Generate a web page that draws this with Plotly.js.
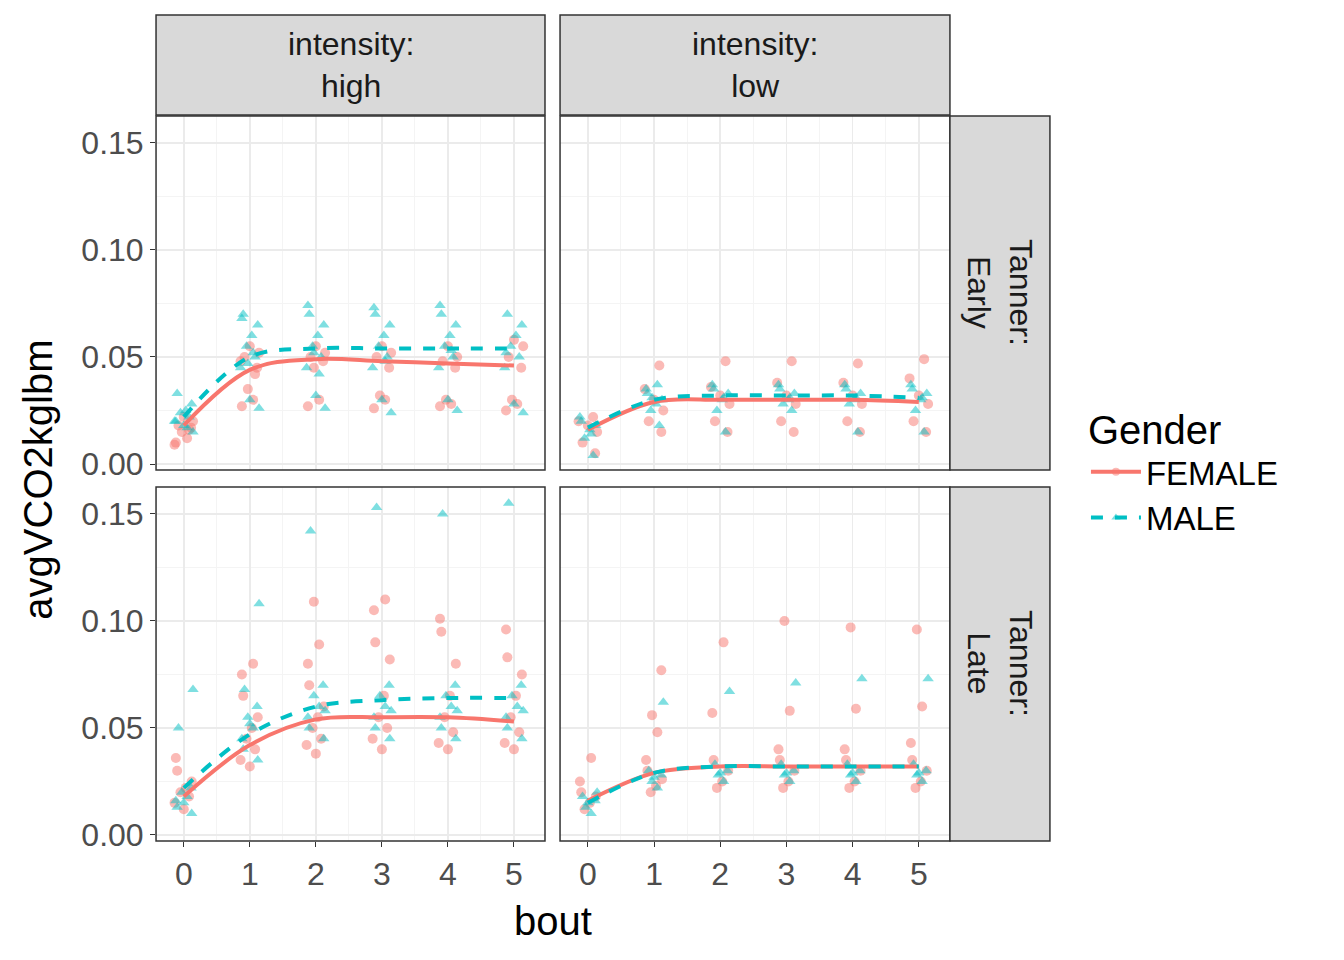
<!DOCTYPE html>
<html>
<head>
<meta charset="utf-8">
<script src="https://cdn.plot.ly/plotly-3.0.1.min.js"></script>
<style>body{margin:0;background:#fff}</style>
</head>
<body>
<div id="chart" style="width:1344px;height:960px"></div>
<script>
// panels: high/Early, low/Early, high/Late, low/Late
const bouts = [0, 1, 2, 3, 4, 5];
const jitter = [-0.12, 0.05, -0.03, 0.11, -0.08, 0.14, 0.0, -0.14, 0.08, -0.05, 0.03, 0.12, -0.1];

const femalePts = [
  [[0.010,0.012,0.015,0.017,0.018,0.020,0.022,0.009,0.016],
   [0.027,0.030,0.035,0.045,0.050,0.052,0.055,0.048,0.042],
   [0.027,0.030,0.045,0.048,0.050,0.052,0.055],
   [0.026,0.030,0.032,0.045,0.050,0.052,0.055],
   [0.027,0.028,0.030,0.045,0.048,0.050,0.055],
   [0.025,0.028,0.030,0.045,0.050,0.055,0.058]],
  [[0.005,0.010,0.015,0.018,0.020,0.022],
   [0.015,0.020,0.025,0.030,0.035,0.046],
   [0.015,0.020,0.028,0.032,0.036,0.048],
   [0.015,0.020,0.028,0.032,0.038,0.048],
   [0.015,0.020,0.028,0.032,0.038,0.047],
   [0.015,0.020,0.028,0.032,0.040,0.049]],
  [[0.012,0.015,0.018,0.020,0.022,0.025,0.030,0.036],
   [0.032,0.035,0.040,0.045,0.050,0.055,0.065,0.075,0.080],
   [0.038,0.042,0.045,0.050,0.055,0.060,0.070,0.080,0.089,0.109],
   [0.040,0.045,0.050,0.055,0.065,0.082,0.090,0.105,0.110],
   [0.040,0.043,0.048,0.055,0.065,0.080,0.095,0.101],
   [0.040,0.043,0.048,0.055,0.065,0.075,0.083,0.096]],
  [[0.012,0.015,0.018,0.020,0.025,0.036],
   [0.020,0.023,0.026,0.030,0.035,0.048,0.056,0.077],
   [0.022,0.025,0.030,0.035,0.057,0.090],
   [0.022,0.025,0.030,0.035,0.040,0.058,0.100],
   [0.022,0.025,0.030,0.035,0.040,0.059,0.097],
   [0.022,0.025,0.030,0.035,0.043,0.060,0.096]]
];
const malePts = [
  [[0.015,0.018,0.020,0.022,0.024,0.025,0.028,0.033,0.020,0.017],
   [0.026,0.030,0.045,0.050,0.055,0.060,0.065,0.070,0.068,0.052,0.047],
   [0.026,0.032,0.045,0.050,0.055,0.060,0.065,0.070,0.074,0.042,0.052],
   [0.024,0.030,0.045,0.050,0.055,0.060,0.065,0.070,0.073,0.048],
   [0.025,0.030,0.045,0.050,0.055,0.060,0.065,0.070,0.074,0.053],
   [0.024,0.028,0.045,0.050,0.055,0.060,0.065,0.070,0.052]],
  [[0.004,0.012,0.016,0.018,0.020,0.022,0.014],
   [0.018,0.025,0.028,0.030,0.033,0.035,0.037,0.031],
   [0.015,0.025,0.030,0.033,0.035,0.037,0.031],
   [0.025,0.028,0.030,0.033,0.035,0.037,0.031],
   [0.015,0.028,0.030,0.033,0.035,0.037,0.031],
   [0.015,0.025,0.030,0.033,0.035,0.037,0.031]],
  [[0.010,0.013,0.016,0.018,0.020,0.022,0.050,0.068,0.015],
   [0.035,0.040,0.045,0.050,0.055,0.060,0.068,0.108,0.052],
   [0.045,0.050,0.055,0.060,0.065,0.070,0.142,0.058],
   [0.045,0.050,0.055,0.060,0.065,0.070,0.153,0.058],
   [0.045,0.050,0.055,0.060,0.065,0.070,0.150,0.058],
   [0.045,0.050,0.055,0.060,0.065,0.070,0.155,0.058]],
  [[0.010,0.013,0.016,0.018,0.020,0.015],
   [0.022,0.025,0.028,0.030,0.062,0.027],
   [0.025,0.028,0.030,0.033,0.067,0.029],
   [0.025,0.028,0.030,0.033,0.071,0.029],
   [0.025,0.028,0.030,0.033,0.073,0.029],
   [0.025,0.028,0.030,0.033,0.073,0.029]]
];
const femaleSmooth = [
  [0.018,0.044,0.049,0.048,0.047,0.046],
  [0.016,0.029,0.030,0.030,0.030,0.029],
  [0.018,0.042,0.054,0.055,0.055,0.053],
  [0.016,0.029,0.032,0.032,0.032,0.032]
];
const maleSmooth = [
  [0.022,0.050,0.054,0.054,0.054,0.054],
  [0.017,0.030,0.032,0.032,0.032,0.031],
  [0.022,0.047,0.060,0.063,0.064,0.064],
  [0.015,0.029,0.032,0.032,0.032,0.032]
];
const colTitles = ['intensity:<br>high', 'intensity:<br>low'];
const rowTitles = ['Tanner:<br>Early', 'Tanner:<br>Late'];

const FEM = '#F8766D', MAL = '#00BFC4';
const xDom = [[0.1161, 0.4055], [0.4167, 0.7068]];
const yDom = [[0.5104, 0.8792], [0.1240, 0.4927]];

function scatter(pts, p, color, symbol, off) {
  const x = [], y = [];
  pts.forEach((vals, b) => vals.forEach((v, i) => {
    x.push(bouts[b] + jitter[(i + off) % jitter.length]); y.push(v);
  }));
  const s = p === 0 ? '' : p + 1;
  return { type: 'scatter', mode: 'markers', x, y, xaxis: 'x' + s, yaxis: 'y' + s,
    marker: { color, symbol, size: 10, opacity: 0.5 }, showlegend: false, hoverinfo: 'skip' };
}

const traces = [];
const layout = {
  width: 1344, height: 960, margin: { l: 0, r: 0, t: 0, b: 0 },
  paper_bgcolor: '#fff', plot_bgcolor: '#fff',
  font: { family: 'Arial, Liberation Sans, sans-serif', color: '#4d4d4d', size: 30 },
  shapes: [], annotations: [],
  legend: { x: 0.808, y: 0.592, xanchor: 'left', yanchor: 'top', bgcolor: 'rgba(0,0,0,0)',
    title: { text: 'Gender', font: { size: 40, color: '#000' } },
    font: { size: 33, color: '#000' }, tracegroupgap: 6, itemwidth: 50 },
};

for (let p = 0; p < 4; p++) {
  const r = Math.floor(p / 2), c = p % 2, s = p === 0 ? '' : p + 1;
  traces.push(scatter(femalePts[p], p, FEM, 'circle', p * 3));
  traces.push(scatter(malePts[p], p, MAL, 'triangle-up', p * 3 + 5));
  traces.push({ type: 'scatter', mode: 'lines', x: bouts, y: femaleSmooth[p], xaxis: 'x' + s, yaxis: 'y' + s,
    line: { color: FEM, width: 4, shape: 'spline' }, showlegend: false, hoverinfo: 'skip' });
  traces.push({ type: 'scatter', mode: 'lines', x: bouts, y: maleSmooth[p], xaxis: 'x' + s, yaxis: 'y' + s,
    line: { color: MAL, width: 4, dash: 'dash', shape: 'spline' }, showlegend: false, hoverinfo: 'skip' });

  layout['xaxis' + s] = { domain: xDom[c], range: [-0.42, 5.47], anchor: 'y' + s,
    tickvals: bouts, ticktext: r === 1 ? bouts.map(String) : bouts.map(() => ''),
    ticks: r === 1 ? 'outside' : '', ticklen: 5, tickcolor: '#333',
    showgrid: true, gridcolor: '#ebebeb', gridwidth: 1.5, zeroline: false,
    minor: { dtick: 0.5, tick0: 0.5, showgrid: true, gridcolor: '#f4f4f4', gridwidth: 1 },
    showline: false, tickfont: { size: 32, color: '#4d4d4d' } };
  layout['yaxis' + s] = { domain: yDom[r], range: [-0.0028, 0.1626], anchor: 'x' + s,
    tickvals: [0, 0.05, 0.1, 0.15], tickformat: '.2f', showticklabels: c === 0,
    ticks: c === 0 ? 'outside' : '', ticklen: 5, tickcolor: '#333',
    showgrid: true, gridcolor: '#ebebeb', gridwidth: 1.5, zeroline: false,
    minor: { dtick: 0.025, tick0: 0.025, showgrid: true, gridcolor: '#f4f4f4', gridwidth: 1 },
    showline: false, tickfont: { size: 32, color: '#4d4d4d' } };

  layout.shapes.push({ type: 'rect', xref: 'paper', yref: 'paper',
    x0: xDom[c][0], x1: xDom[c][1], y0: yDom[r][0], y1: yDom[r][1],
    line: { color: '#333', width: 1.5 }, layer: 'above' });
}

// strips
colTitles.forEach((t, c) => {
  layout.shapes.push({ type: 'rect', xref: 'paper', yref: 'paper', x0: xDom[c][0], x1: xDom[c][1],
    y0: 0.8802, y1: 0.9844, fillcolor: '#d9d9d9', line: { color: '#333', width: 1.5 } });
  layout.annotations.push({ xref: 'paper', yref: 'paper', x: (xDom[c][0] + xDom[c][1]) / 2, y: 0.9323,
    xanchor: 'center', yanchor: 'middle',
    text: t, showarrow: false, font: { size: 32, color: '#1a1a1a' } });
});
rowTitles.forEach((t, r) => {
  layout.shapes.push({ type: 'rect', xref: 'paper', yref: 'paper', x0: 0.7068, x1: 0.7812,
    y0: yDom[r][0], y1: yDom[r][1], fillcolor: '#d9d9d9', line: { color: '#333', width: 1.5 } });
  layout.annotations.push({ xref: 'paper', yref: 'paper', x: 0.744, y: (yDom[r][0] + yDom[r][1]) / 2,
    xanchor: 'center', yanchor: 'middle',
    text: t, showarrow: false, textangle: 90, font: { size: 32, color: '#1a1a1a' } });
});
// axis titles
layout.annotations.push({ xref: 'paper', yref: 'paper', x: 0.4115, y: 0.041, xanchor: 'center', yanchor: 'middle',
  text: 'bout', showarrow: false, font: { size: 40, color: '#000' } });
layout.annotations.push({ xref: 'paper', yref: 'paper', x: 0.028, y: 0.5, xanchor: 'center', yanchor: 'middle',
  text: 'avgVCO2kglbm', showarrow: false, textangle: -90, font: { size: 40, color: '#000' } });

// legend entries
traces.push({ type: 'scatter', mode: 'lines+markers', x: [null], y: [null], name: 'FEMALE',
  line: { color: FEM, width: 4 }, marker: { color: FEM, symbol: 'circle', size: 8, opacity: 0.5 } });
traces.push({ type: 'scatter', mode: 'lines+markers', x: [null], y: [null], name: 'MALE',
  line: { color: MAL, width: 4, dash: 'dash' }, marker: { color: MAL, symbol: 'triangle-up', size: 8, opacity: 0.5 } });

Plotly.newPlot('chart', traces, layout, { displayModeBar: false, staticPlot: true });
</script>
</body>
</html>
